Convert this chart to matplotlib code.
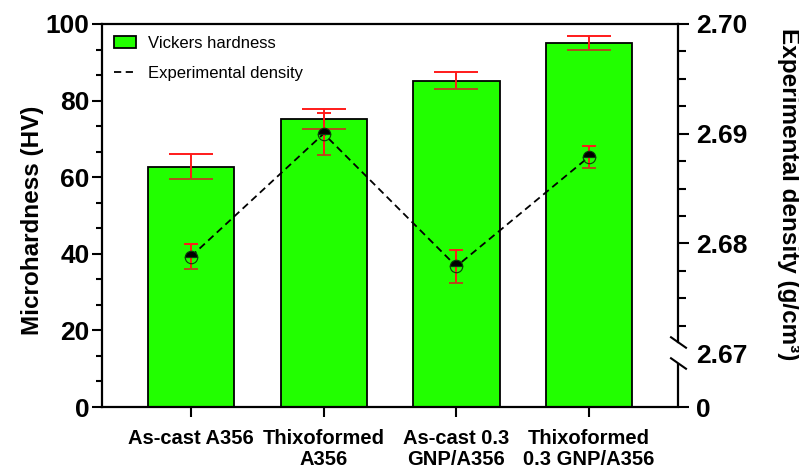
import numpy as np
import matplotlib.pyplot as plt
from matplotlib.ticker import AutoMinorLocator, FixedLocator
from matplotlib.patches import Patch
from matplotlib.lines import Line2D
import matplotlib.transforms as mtransforms

plt.rcParams['font.family'] = ['Liberation Sans', 'DejaVu Sans']

# samples
samples = ['As-cast A356', 'Thixoformed\nA356', 'As-cast 0.3\nGNP/A356', 'Thixoformed\n0.3 GNP/A356']

# Vickers microhardness (HV) and its error
hardness = [62.7, 75.1, 85.2, 95.1]
hardness_err = [3.3, 2.6, 2.2, 1.8]

# experimental density (g/cm3) and its error
density = [2.6788, 2.6900, 2.6779, 2.6879]
density_err = [0.0011, 0.0019, 0.0015, 0.0010]

# right axis: broken between 0 and 2.67
dens_ticks = [2.67, 2.68, 2.69, 2.70]
dens_top = 2.70
dens_bottom = 2.66508  # value sitting at the bottom of the axis, labelled "0"

green = '#22ff00'
red = '#ff1a1a'
brown = '#a9541b'

fig = plt.figure(figsize=(7.99, 4.70), dpi=100)
ax = fig.add_axes([0.1277, 0.134, 0.7209, 0.815])
x = np.arange(len(samples))

ax.bar(x, hardness, width=0.65, color=green, edgecolor='black', linewidth=1.3, zorder=2)
ax.errorbar(x, hardness, yerr=hardness_err, fmt='none', ecolor=red, elinewidth=1.4,
            capsize=16, capthick=1.4, zorder=3)
# caps that fall inside the bars
ax.plot(x, np.array(hardness) - np.array(hardness_err), linestyle='none', marker='_',
        markersize=32, markeredgewidth=1.4, color=brown, zorder=4)

ax.set_xlim(-0.67, 3.67)
ax.set_ylim(0, 100)
ax.set_yticks([0, 20, 40, 60, 80, 100])
ax.yaxis.set_minor_locator(AutoMinorLocator(3))
ax.set_xticks(x)
ax.set_xticklabels(samples, fontsize=14.5, fontweight='bold', linespacing=1.15)
ax.set_ylabel('Microhardness (HV)', fontsize=17.5, fontweight='bold')
ax.yaxis.set_label_coords(-0.1215, 0.488)
ax.yaxis.label.set_rotation_mode('default')
ax.yaxis.label.set_va('center')
ax.yaxis.label.set_ha('center')
ax.tick_params(axis='y', which='major', labelsize=19, width=1.5, length=7, pad=2)
ax.tick_params(axis='y', which='minor', width=1.5, length=4)
ax.tick_params(axis='x', which='major', width=1.5, length=7, pad=8.5)
for side in ['left', 'bottom', 'top']:
    ax.spines[side].set_linewidth(1.6)
ax.spines['right'].set_visible(False)
for lab in ax.get_yticklabels():
    lab.set_fontweight('bold')

# density on the twin axis
ax2 = ax.twinx()
ax2.set_ylim(dens_bottom, dens_top)
ax2.plot(x, density, linestyle=(0, (4, 2.5)), color='black', linewidth=1.3, zorder=2)
ax2.errorbar(x, density, yerr=density_err, fmt='none', ecolor=red, elinewidth=1.4,
             capsize=5, capthick=1.4, zorder=3)
ax2.plot(x, np.array(density) - np.array(density_err), linestyle='none', marker='_',
         markersize=10, markeredgewidth=1.4, color=brown, zorder=4)
ax2.plot(x, density, linestyle='none', marker='o', markersize=9, fillstyle='top',
         markerfacecolor='black', markerfacecoloralt='none', markeredgecolor='#0a3a0a',
         markeredgewidth=0.8, zorder=5)

ax2.set_yticks([dens_bottom] + dens_ticks)
ax2.set_yticklabels(['0'] + ['%.2f' % t for t in dens_ticks], fontsize=19, fontweight='bold')
ax2.yaxis.set_minor_locator(FixedLocator([2.6725, 2.675, 2.6775, 2.6825, 2.685, 2.6875,
                                          2.6925, 2.695, 2.6975]))
ax2.tick_params(axis='y', which='major', width=1.5, length=8, pad=5)
ax2.tick_params(axis='y', which='minor', width=1.5, length=6)
ax2.yaxis.get_major_ticks()[1].tick2line.set_visible(False)
ax2.set_ylabel('Experimental density (g/cm³)', fontsize=17.5, fontweight='bold', rotation=-90)
ax2.yaxis.set_label_coords(1.191, 0.556)
ax2.yaxis.label.set_rotation_mode('default')
ax2.yaxis.label.set_va('center')
ax2.yaxis.label.set_ha('center')
for side in ['left', 'bottom', 'top']:
    ax2.spines[side].set_visible(False)

# broken right spine
gap_hi, gap_lo = 2.6710, 2.6691
ax2.spines['right'].set_linewidth(1.6)
ax2.spines['right'].set_bounds(gap_hi, dens_top)
trans = mtransforms.blended_transform_factory(ax2.transAxes, ax2.transData)
ax2.plot([1, 1], [dens_bottom, gap_lo], transform=trans, color='black', linewidth=1.6,
         clip_on=False, solid_capstyle='butt')
for yb in [gap_hi, gap_lo]:
    ax2.plot([1], [yb], transform=trans, clip_on=False, color='black',
             marker=[(-1, 0.7), (1, -0.7)], markersize=12, markeredgewidth=1.5, linestyle='none')

handles = [Patch(facecolor=green, edgecolor='black', linewidth=1.3),
           Line2D([], [], color='black', linestyle=(0, (4, 2.5)), linewidth=1.3)]
ax2.legend(handles, ['Vickers hardness', 'Experimental density'], loc='upper left',
           frameon=False, fontsize=12, handlelength=1.35, handleheight=0.75,
           handletextpad=0.7, labelspacing=0.9, borderaxespad=0.3, borderpad=0.4)

plt.savefig('out.png', dpi=100)
